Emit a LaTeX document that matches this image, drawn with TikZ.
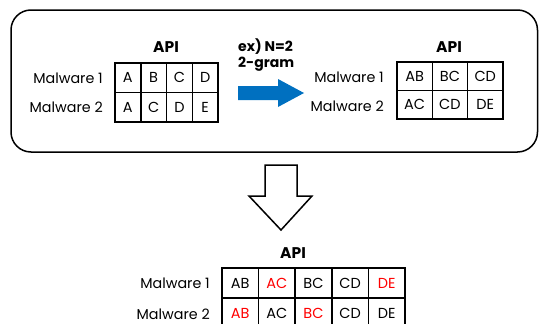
\documentclass[tikz,border=0pt]{standalone}
\usepackage{fontspec}
\setmainfont{Poppins}
\begin{document}
\begin{tikzpicture}[x=1pt,y=-1pt,
  lbl/.style={font=\fontsize{14.3}{16}\selectfont, anchor=east, inner sep=0pt},
  hdr/.style={font=\fontsize{15.5}{17}\selectfont\bfseries, inner sep=0pt},
  cellA/.style={draw, line width=1.5pt, minimum width=25.75pt, minimum height=29.5pt, inner sep=0pt, font=\fontsize{14.5}{16}\selectfont},
  cellB/.style={draw, line width=1.5pt, minimum width=35.3pt, minimum height=28.5pt, inner sep=0pt, font=\fontsize{14.5}{16}\selectfont},
  cellC/.style={draw, line width=1.5pt, minimum width=36.6pt, minimum height=30pt, inner sep=0pt, font=\fontsize{14.5}{16}\selectfont},
  hit/.style={text=red}]
\useasboundingbox (0,0) rectangle (539,324);
% rounded frame
\draw[line width=1.5pt, rounded corners=20pt] (11,10) rectangle (537.5,152);
% table 1
\node[hdr] (api1) at (166,47) {API};
\node[lbl] (m11) at (103,78) {Malware 1};
\node[lbl] (m12) at (103,107) {Malware 2};
\foreach \t [count=\i] in {A,B,C,D}
  \node[cellA] (a1\i) at ({115+25.75*(\i-0.5)},77.5) {\t};
\foreach \t [count=\i] in {A,C,D,E}
  \node[cellA] (a2\i) at ({115+25.75*(\i-0.5)},107) {\t};
% text and blue arrow
\node[font=\fontsize{14}{16}\selectfont\bfseries, anchor=base west, inner sep=0pt] (ex1) at (238,52) {ex) N=2};
\node[font=\fontsize{14}{16}\selectfont\bfseries, anchor=base west, inner sep=0pt] (ex2) at (238,67) {2-gram};
\fill[fill={rgb,255:red,0;green,112;blue,192}] (238,86) -- (278,86) -- (278,79) -- (304,93) -- (278,107) -- (278,100) -- (238,100) -- cycle;
% table 2
\node[hdr] (api2) at (449,47) {API};
\node[lbl] (m21) at (384,77) {Malware 1};
\node[lbl] (m22) at (384,106) {Malware 2};
\foreach \t [count=\i] in {AB,BC,CD}
  \node[cellB] (b1\i) at ({397+35.3*(\i-0.5)},76.3) {\t};
\foreach \t [count=\i] in {AC,CD,DE}
  \node[cellB] (b2\i) at ({397+35.3*(\i-0.5)},104.8) {\t};
% down arrow
\draw[line width=1.5pt, line join=miter] (265,165) -- (297,165) -- (297,196) -- (312,196) -- (281,230) -- (249,196) -- (265,196) -- cycle;
% table 3
\node[hdr] (api3) at (293,253) {API};
\node[lbl] (m31) at (210,283) {Malware 1};
\node[lbl] (m32) at (210,314) {Malware 2};
\node[cellC] (c11) at (240.3,283) {AB};
\node[cellC,hit] (c12) at (276.9,283) {AC};
\node[cellC] (c13) at (313.5,283) {BC};
\node[cellC] (c14) at (350.1,283) {CD};
\node[cellC,hit] (c15) at (386.7,283) {DE};
\node[cellC,hit] (c21) at (240.3,313) {AB};
\node[cellC] (c22) at (276.9,313) {AC};
\node[cellC,hit] (c23) at (313.5,313) {BC};
\node[cellC] (c24) at (350.1,313) {CD};
\node[cellC] (c25) at (386.7,313) {DE};
\end{tikzpicture}
\end{document}
